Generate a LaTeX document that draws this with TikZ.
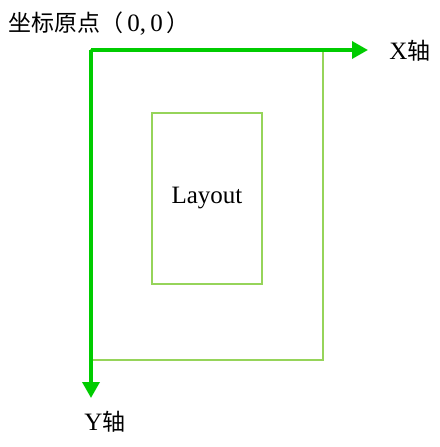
\documentclass[tikz,border=0pt]{standalone}
\usepackage{fontspec}
\setmainfont{Liberation Serif}
\newfontfamily\cjk[Scale=0.92]{Noto Sans CJK SC}
\usepackage{tikz}
\usetikzlibrary{arrows.meta,calc}
\definecolor{axisgreen}{RGB}{0,204,0}
\definecolor{boxgreen}{RGB}{150,212,90}

\begin{document}
\begin{tikzpicture}[x=1pt, y=-1pt, font=\fontsize{25}{28}\selectfont,
  axis/.style={axisgreen, line width=3.5pt, -{Triangle[length=16pt,width=17pt]}},
  boxline/.style={boxgreen, line width=1.5pt}]
\useasboundingbox (0,0) rectangle (439,447);
\coordinate (O) at (91,50);
\coordinate (X) at (368,50);
\coordinate (Y) at (91,398);
\coordinate (P) at (323,360);
\coordinate (A) at (152,113);
\coordinate (B) at (262,284);
\draw[boxline] (O) rectangle (P);
\draw[boxline] (A) rectangle (B);
\node (layout) at ($(A)!0.5!(B)$) {Layout};
\draw[axis] (O) -- (X);
\draw[axis] (O) -- (Y);
\node[anchor=west, inner sep=0pt] (origin) at (8,24) {{\cjk 坐标原点（}\,0,\,0\,{\cjk ）}};
\node (xlabel) at (410,51) {X{\cjk 轴}};
\node (ylabel) at (105,422) {Y{\cjk 轴}};
\end{tikzpicture}
\end{document}
